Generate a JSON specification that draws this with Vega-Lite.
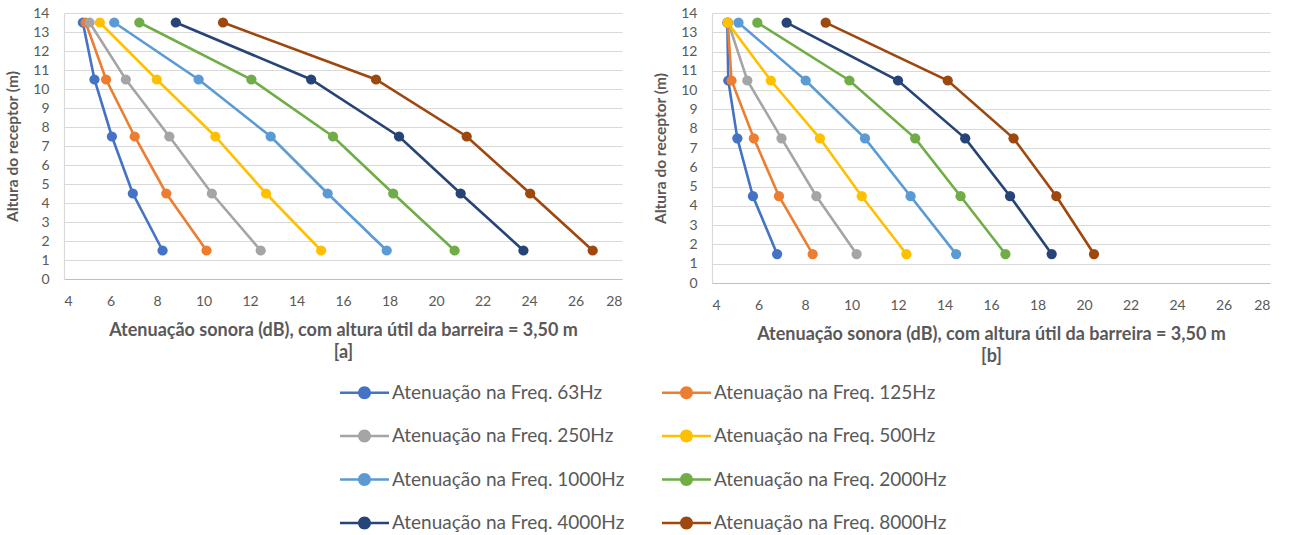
{
  "$schema": "https://vega.github.io/schema/vega-lite/v6.json",
  "background": "white",
  "padding": {"left": 5, "top": 6, "right": 18, "bottom": 5},
  "datasets": {
    "d": [
      {"p":"a","f":"63Hz","h":13.5,"v":4.81},{"p":"a","f":"63Hz","h":10.5,"v":5.31},{"p":"a","f":"63Hz","h":7.5,"v":6.06},{"p":"a","f":"63Hz","h":4.5,"v":6.96},{"p":"a","f":"63Hz","h":1.5,"v":8.24},
      {"p":"a","f":"125Hz","h":13.5,"v":4.93},{"p":"a","f":"125Hz","h":10.5,"v":5.81},{"p":"a","f":"125Hz","h":7.5,"v":7.04},{"p":"a","f":"125Hz","h":4.5,"v":8.40},{"p":"a","f":"125Hz","h":1.5,"v":10.13},
      {"p":"a","f":"250Hz","h":13.5,"v":5.10},{"p":"a","f":"250Hz","h":10.5,"v":6.66},{"p":"a","f":"250Hz","h":7.5,"v":8.53},{"p":"a","f":"250Hz","h":4.5,"v":10.36},{"p":"a","f":"250Hz","h":1.5,"v":12.46},
      {"p":"a","f":"500Hz","h":13.5,"v":5.54},{"p":"a","f":"500Hz","h":10.5,"v":7.99},{"p":"a","f":"500Hz","h":7.5,"v":10.51},{"p":"a","f":"500Hz","h":4.5,"v":12.69},{"p":"a","f":"500Hz","h":1.5,"v":15.06},
      {"p":"a","f":"1000Hz","h":13.5,"v":6.16},{"p":"a","f":"1000Hz","h":10.5,"v":9.79},{"p":"a","f":"1000Hz","h":7.5,"v":12.89},{"p":"a","f":"1000Hz","h":4.5,"v":15.34},{"p":"a","f":"1000Hz","h":1.5,"v":17.88},
      {"p":"a","f":"2000Hz","h":13.5,"v":7.24},{"p":"a","f":"2000Hz","h":10.5,"v":12.06},{"p":"a","f":"2000Hz","h":7.5,"v":15.57},{"p":"a","f":"2000Hz","h":4.5,"v":18.16},{"p":"a","f":"2000Hz","h":1.5,"v":20.80},
      {"p":"a","f":"4000Hz","h":13.5,"v":8.81},{"p":"a","f":"4000Hz","h":10.5,"v":14.63},{"p":"a","f":"4000Hz","h":7.5,"v":18.41},{"p":"a","f":"4000Hz","h":4.5,"v":21.06},{"p":"a","f":"4000Hz","h":1.5,"v":23.76},
      {"p":"a","f":"8000Hz","h":13.5,"v":10.84},{"p":"a","f":"8000Hz","h":10.5,"v":17.42},{"p":"a","f":"8000Hz","h":7.5,"v":21.32},{"p":"a","f":"8000Hz","h":4.5,"v":24.05},{"p":"a","f":"8000Hz","h":1.5,"v":26.74},
      {"p":"b","f":"63Hz","h":13.5,"v":4.66},{"p":"b","f":"63Hz","h":10.5,"v":4.70},{"p":"b","f":"63Hz","h":7.5,"v":5.09},{"p":"b","f":"63Hz","h":4.5,"v":5.76},{"p":"b","f":"63Hz","h":1.5,"v":6.80},
      {"p":"b","f":"125Hz","h":13.5,"v":4.68},{"p":"b","f":"125Hz","h":10.5,"v":4.84},{"p":"b","f":"125Hz","h":7.5,"v":5.80},{"p":"b","f":"125Hz","h":4.5,"v":6.88},{"p":"b","f":"125Hz","h":1.5,"v":8.33},
      {"p":"b","f":"250Hz","h":13.5,"v":4.70},{"p":"b","f":"250Hz","h":10.5,"v":5.52},{"p":"b","f":"250Hz","h":7.5,"v":6.99},{"p":"b","f":"250Hz","h":4.5,"v":8.49},{"p":"b","f":"250Hz","h":1.5,"v":10.22},
      {"p":"b","f":"500Hz","h":13.5,"v":4.67},{"p":"b","f":"500Hz","h":10.5,"v":6.53},{"p":"b","f":"500Hz","h":7.5,"v":8.64},{"p":"b","f":"500Hz","h":4.5,"v":10.44},{"p":"b","f":"500Hz","h":1.5,"v":12.36},
      {"p":"b","f":"1000Hz","h":13.5,"v":5.14},{"p":"b","f":"1000Hz","h":10.5,"v":8.03},{"p":"b","f":"1000Hz","h":7.5,"v":10.58},{"p":"b","f":"1000Hz","h":4.5,"v":12.54},{"p":"b","f":"1000Hz","h":1.5,"v":14.50},
      {"p":"b","f":"2000Hz","h":13.5,"v":5.95},{"p":"b","f":"2000Hz","h":10.5,"v":9.91},{"p":"b","f":"2000Hz","h":7.5,"v":12.74},{"p":"b","f":"2000Hz","h":4.5,"v":14.69},{"p":"b","f":"2000Hz","h":1.5,"v":16.62},
      {"p":"b","f":"4000Hz","h":13.5,"v":7.21},{"p":"b","f":"4000Hz","h":10.5,"v":12.00},{"p":"b","f":"4000Hz","h":7.5,"v":14.89},{"p":"b","f":"4000Hz","h":4.5,"v":16.82},{"p":"b","f":"4000Hz","h":1.5,"v":18.61},
      {"p":"b","f":"8000Hz","h":13.5,"v":8.89},{"p":"b","f":"8000Hz","h":10.5,"v":14.14},{"p":"b","f":"8000Hz","h":7.5,"v":16.97},{"p":"b","f":"8000Hz","h":4.5,"v":18.81},{"p":"b","f":"8000Hz","h":1.5,"v":20.43}
    ]
  },
  "data": {"name": "d"},
  "spacing": 90,
  "bounds": "flush",
  "hconcat": [
    {
      "width": 558,
      "height": 266,
      "transform": [{"filter": "datum.p == 'a'"}],
      "encoding": {
        "x": {"field": "v", "type": "quantitative", "scale": {"domain": [4, 28], "nice": false, "zero": false},
              "axis": {"values": [4,6,8,10,12,14,16,18,20,22,24,26,28], "grid": false, "title": ["Atenuação sonora (dB), com altura útil da barreira = 3,50 m", "[a]"]}},
        "y": {"field": "h", "type": "quantitative", "scale": {"domain": [0, 14], "nice": false},
              "axis": {"values": [0,1,2,3,4,5,6,7,8,9,10,11,12,13,14], "title": "Altura do receptor (m)"}},
        "color": {"field": "f", "type": "nominal",
                  "scale": {"domain": ["63Hz","125Hz","250Hz","500Hz","1000Hz","2000Hz","4000Hz","8000Hz"],
                            "range": ["#4472C4","#ED7D31","#A5A5A5","#FFC000","#5B9BD5","#70AD47","#264478","#9E480E"]},
                  "legend": {
                    "orient": "none",
                    "direction": "horizontal",
                    "legendX": 276,
                    "legendY": 355,
                    "labelExpr": "'Atenuação na Freq. ' + datum.label"
                  }}
      },
      "layer": [
        {"mark": {"type": "line", "strokeWidth": 2.6}, "encoding": {"order": {"field": "h", "type": "quantitative"}}},
        {"mark": {"type": "point", "filled": true, "size": 105, "opacity": 1}}
      ]
    },
    {
      "width": 558,
      "height": 270,
      "transform": [{"filter": "datum.p == 'b'"}],
      "encoding": {
        "x": {"field": "v", "type": "quantitative", "scale": {"domain": [4, 28], "nice": false, "zero": false},
              "axis": {"values": [4,6,8,10,12,14,16,18,20,22,24,26,28], "grid": false, "title": ["Atenuação sonora (dB), com altura útil da barreira = 3,50 m", "[b]"]}},
        "y": {"field": "h", "type": "quantitative", "scale": {"domain": [0, 14], "nice": false},
              "axis": {"values": [0,1,2,3,4,5,6,7,8,9,10,11,12,13,14], "title": "Altura do receptor (m)"}},
        "color": {"field": "f", "type": "nominal"}
      },
      "layer": [
        {"mark": {"type": "line", "strokeWidth": 2.6}, "encoding": {"order": {"field": "h", "type": "quantitative"}}},
        {"mark": {"type": "point", "filled": true, "size": 105, "opacity": 1}}
      ]
    }
  ],
  "config": {
    "view": {"stroke": null},
    "font": "Lato",
    "axis": {
      "labelFont": "Lato", "labelFontSize": 14, "labelColor": "#595959",
      "titleFont": "Lato", "titleFontWeight": "bold", "titleColor": "#595959",
      "ticks": false, "tickSize": 0, "gridColor": "#d9d9d9", "gridWidth": 1, "domainColor": "#d9d9d9", "domainWidth": 1.2
    },
    "axisY": {"labelPadding": 15, "titlePadding": 12, "grid": true, "titleFontSize": 15.5},
    "axisX": {"labelPadding": 15, "titlePadding": 13, "titleLineHeight": 22, "domainColor": "#bfbfbf", "titleFontSize": 18},
    "legend": {
      "title": null,
      "columns": 2,
      "symbolType": "M-1,-0.05 H1 V0.05 H-1 Z M0.265,0 A0.265,0.265 0 1,1 -0.265,0 A0.265,0.265 0 1,1 0.265,0 Z",
      "symbolSize": 2401,
      "symbolStrokeWidth": 0,
      "symbolOpacity": 1,
      "labelFont": "Lato",
      "labelFontSize": 19,
      "labelColor": "#595959",
      "labelLimit": 400,
      "labelOffset": 3,
      "columnPadding": 37,
      "rowPadding": 8.5
    }
  }
}
